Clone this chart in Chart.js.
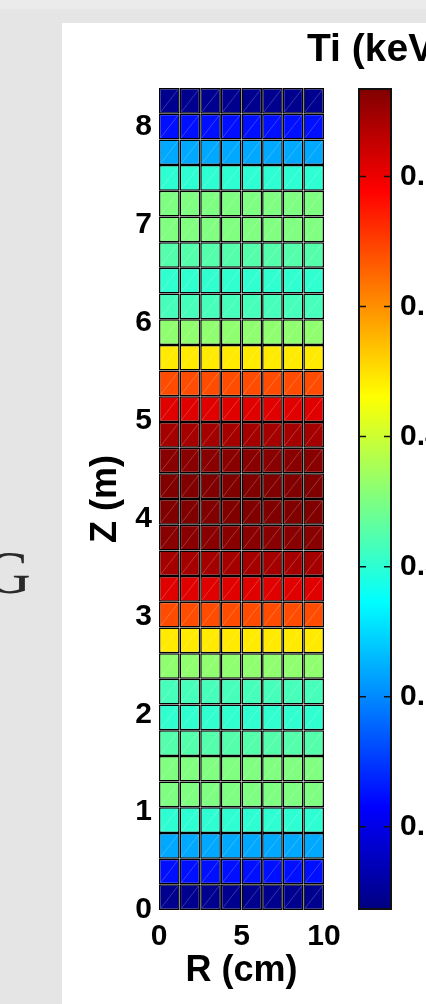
<!DOCTYPE html>
<html>
<head>
<meta charset="utf-8">
<title>Ti (keV)</title>
<script src="https://cdn.jsdelivr.net/npm/chart.js@4.4.1/dist/chart.umd.min.js"></script>
<style>
  html, body { margin: 0; padding: 0; }
  body { width: 426px; height: 1004px; background: #e5e5e5; position: relative; overflow: hidden; }
  #topband { position: absolute; left: 0; top: 0; width: 426px; height: 9px; background: #ebebeb; }
  #panel { position: absolute; left: 62px; top: 23px; width: 364px; height: 981px; background: #fff; }
  #glyph { position: absolute; left: -14px; top: 541px; font: 62px "Liberation Serif", serif; line-height: 1; color: #2a2a2a; }
  #title { position: absolute; left: 307px; top: 28px; font: bold 39px "Liberation Sans", Arial, sans-serif; line-height: 1; white-space: nowrap; color: #000; }
  #main { position: absolute; left: 0; top: 0; width: 350px; height: 1004px; }
  #cbar { position: absolute; left: 340px; top: 0; width: 86px; height: 1004px; }
</style>
</head>
<body>
<div id="topband"></div>
<div id="panel"></div>
<div id="glyph">G</div>
<div id="main"><canvas id="mainChart"></canvas></div>
<div id="cbar"><canvas id="cbarChart"></canvas></div>
<div id="title">Ti (keV)</div>
<script>
// radial cell centres (cm)
const rCenters = [0.625, 1.875, 3.125, 4.375, 5.625, 6.875, 8.125, 9.375];
// axial extent (m) and number of mesh rows
const zMax = 8.4;
const nRows = 32;
// Ti (keV) per row, from Z = 0 upward
const tiRows = [
  0.045, 0.124, 0.219, 0.301, 0.351, 0.352, 0.325, 0.303,
  0.316, 0.362, 0.444, 0.542, 0.608, 0.645, 0.663, 0.668,
  0.668, 0.663, 0.645, 0.608, 0.542, 0.444, 0.362, 0.316,
  0.303, 0.325, 0.352, 0.351, 0.301, 0.219, 0.124, 0.045
];
// colour bar limits and ticks
const cbMin = 0.036;
const cbMax = 0.668;
const cbTicks = [0.1, 0.2, 0.3, 0.4, 0.5, 0.6];
const xTicks = [0, 5, 10];

const FONT = '"Liberation Sans", Arial, sans-serif';
Chart.defaults.color = '#000';

function jet(t) {
    t = Math.min(1, Math.max(0, t));
    const c = k => Math.round(255 * Math.min(1, Math.max(0, 1.5 - Math.abs(4 * t - k))));
    return 'rgb(' + c(3) + ',' + c(2) + ',' + c(1) + ')';
}

const zEdges = [];
for (let i = 0; i <= nRows; i++) zEdges.push(i * zMax / nRows);

const datasets = tiRows.map((v, k) => ({
    data: rCenters.map(r => ({ x: r, y: [zEdges[k], zEdges[k + 1]] })),
    backgroundColor: jet((v - cbMin) / (cbMax - cbMin)),
    borderColor: '#000',
    borderWidth: 1.5,
    borderSkipped: false,
    inflateAmount: 0,
    grouped: false,
    barPercentage: 1,
    categoryPercentage: 1
}));

// thin diagonal of each triangle pair
const meshLines = {
    id: 'meshLines',
    afterDatasetsDraw(chart) {
        const ctx = chart.ctx;
        ctx.save();
        ctx.strokeStyle = 'rgba(255,255,255,0.3)';
        ctx.lineWidth = 0.7;
        chart.data.datasets.forEach((ds, i) => {
            chart.getDatasetMeta(i).data.forEach(bar => {
                const p = bar.getProps(['x', 'y', 'base', 'width'], true);
                const l = p.x - p.width / 2, r = p.x + p.width / 2;
                const top = Math.min(p.y, p.base), bottom = Math.max(p.y, p.base);
                ctx.beginPath();
                ctx.moveTo(l + 1.5, bottom - 1.5);
                ctx.lineTo(r - 1.5, top + 1.5);
                ctx.stroke();
            });
        });
        ctx.restore();
    }
};

new Chart(document.getElementById('mainChart'), {
    type: 'bar',
    data: { datasets: datasets },
    plugins: [meshLines],
    options: {
        responsive: true,
        maintainAspectRatio: false,
        animation: false,
        layout: { padding: { left: 0, top: 88, right: 26, bottom: 0 } },
        plugins: { legend: { display: false }, tooltip: { enabled: false } },
        scales: {
            x: {
                type: 'linear',
                min: 0,
                max: 10,
                offset: false,
                grid: { display: false, drawTicks: false },
                border: { display: false },
                afterBuildTicks: s => { s.ticks = xTicks.map(v => ({ value: v })); },
                afterFit: s => { s.height = 94; },
                ticks: { font: { family: FONT, size: 30, weight: 'bold' }, padding: 9, maxRotation: 0, autoSkip: false },
                title: { display: true, text: 'R (cm)', font: { family: FONT, size: 36, weight: 'bold' }, padding: { top: 0, bottom: 11 } }
            },
            y: {
                type: 'linear',
                min: 0,
                max: zMax,
                grid: { display: false, drawTicks: false },
                border: { display: false },
                afterFit: s => { s.width = 159; },
                ticks: { stepSize: 1, includeBounds: false, font: { family: FONT, size: 30, weight: 'bold' }, padding: 7 },
                title: { display: true, text: 'Z (m)', font: { family: FONT, size: 36, weight: 'bold' }, padding: { top: 84, bottom: 0 } }
            }
        }
    }
});

// inward tick marks on both edges of the colour bar
const cbTickMarks = {
    id: 'cbTickMarks',
    afterDraw(chart) {
        const a = chart.chartArea, s = chart.scales.y, ctx = chart.ctx;
        ctx.save();
        ctx.strokeStyle = '#111';
        ctx.lineWidth = 1.5;
        cbTicks.forEach(v => {
            const y = s.getPixelForValue(v);
            ctx.beginPath();
            ctx.moveTo(a.left, y); ctx.lineTo(a.left + 8, y);
            ctx.moveTo(a.right - 8, y); ctx.lineTo(a.right, y);
            ctx.stroke();
        });
        ctx.restore();
    }
};

new Chart(document.getElementById('cbarChart'), {
    type: 'bar',
    data: {
        labels: [''],
        datasets: [{
            data: [[cbMin, cbMax]],
            backgroundColor: ctx => {
                const area = ctx.chart.chartArea;
                if (!area) return jet(0.5);
                const g = ctx.chart.ctx.createLinearGradient(0, area.bottom, 0, area.top);
                [0, 0.125, 0.375, 0.625, 0.875, 1].forEach(t => g.addColorStop(t, jet(t)));
                return g;
            },
            borderColor: '#111',
            borderWidth: 2,
            borderSkipped: false,
            inflateAmount: 0,
            barPercentage: 1,
            categoryPercentage: 1
        }]
    },
    plugins: [cbTickMarks],
    options: {
        responsive: true,
        maintainAspectRatio: false,
        animation: false,
        layout: { padding: { left: 18, top: 88, right: 0, bottom: 94 } },
        plugins: { legend: { display: false }, tooltip: { enabled: false } },
        scales: {
            x: { display: false },
            y: {
                position: 'right',
                min: cbMin,
                max: cbMax,
                grid: { display: false, drawTicks: false },
                border: { display: false },
                afterFit: s => { s.width = 34; },
                afterBuildTicks: s => { s.ticks = cbTicks.map(v => ({ value: v })); },
                ticks: { font: { family: FONT, size: 30, weight: 'bold' }, padding: 8, callback: v => v.toFixed(1) }
            }
        }
    }
});
</script>
</body>
</html>
